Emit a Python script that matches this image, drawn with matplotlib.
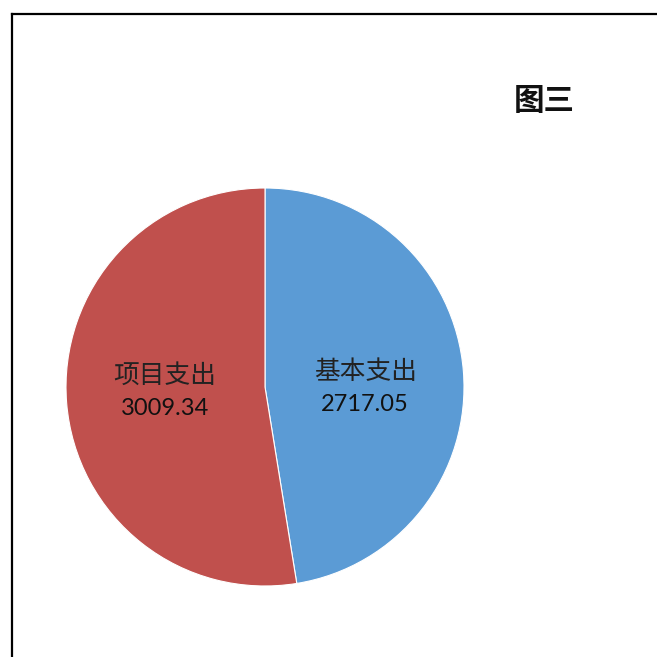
import matplotlib
matplotlib.use("Agg")
import matplotlib.pyplot as plt
from matplotlib.lines import Line2D
import numpy as np

plt.rcParams['font.family'] = ['Noto Sans CJK SC', 'DejaVu Sans']

categories = ["基本支出", "项目支出"]
values = [2717.05, 3009.34]
value_labels = ["2717.05", "3009.34"]
colors = ["#5B9BD5", "#C0504D"]
title = "图三"

W = H = 657
fig = plt.figure(figsize=(W / 100, H / 100), dpi=100)
fig.patch.set_facecolor("white")

cx, cy, r = 265, 387, 199
ax = fig.add_axes([(cx - r) / W, (H - cy - r) / H, 2 * r / W, 2 * r / H])
wedges, _ = ax.pie(values, colors=colors, startangle=90, counterclock=False,
                   wedgeprops=dict(edgecolor="white", linewidth=0.8))
ax.set_xlim(-1, 1)
ax.set_ylim(-1, 1)
ax.set_aspect("equal")
ax.axis("off")

for w, cat, vl in zip(wedges, categories, value_labels):
    ang = np.deg2rad((w.theta1 + w.theta2) / 2)
    x, y = 0.505 * np.cos(ang), 0.505 * np.sin(ang)
    y = 0.0 if y > 0 else -0.02
    ax.text(x, y + 0.075, cat, ha="center", va="center", fontsize=18.5,
            color="#222222", family=["Noto Sans CJK SC"])
    ax.text(x, y - 0.09, vl, ha="center", va="center", fontsize=17,
            color="#111111", family=["Lato", "DejaVu Sans"])

fig.text(544 / W, 1 - 101 / H, title, ha="center", va="center", fontsize=22,
         fontweight="bold", color="#111111")

# frame
lw = 1.6
fig.add_artist(Line2D([12 / W, 12 / W], [1 - 14 / H, 0], transform=fig.transFigure,
                      color="black", linewidth=lw))
fig.add_artist(Line2D([12 / W, 1], [1 - 14 / H, 1 - 14 / H], transform=fig.transFigure,
                      color="black", linewidth=lw))

fig.savefig("out.png", dpi=100, facecolor="white")
